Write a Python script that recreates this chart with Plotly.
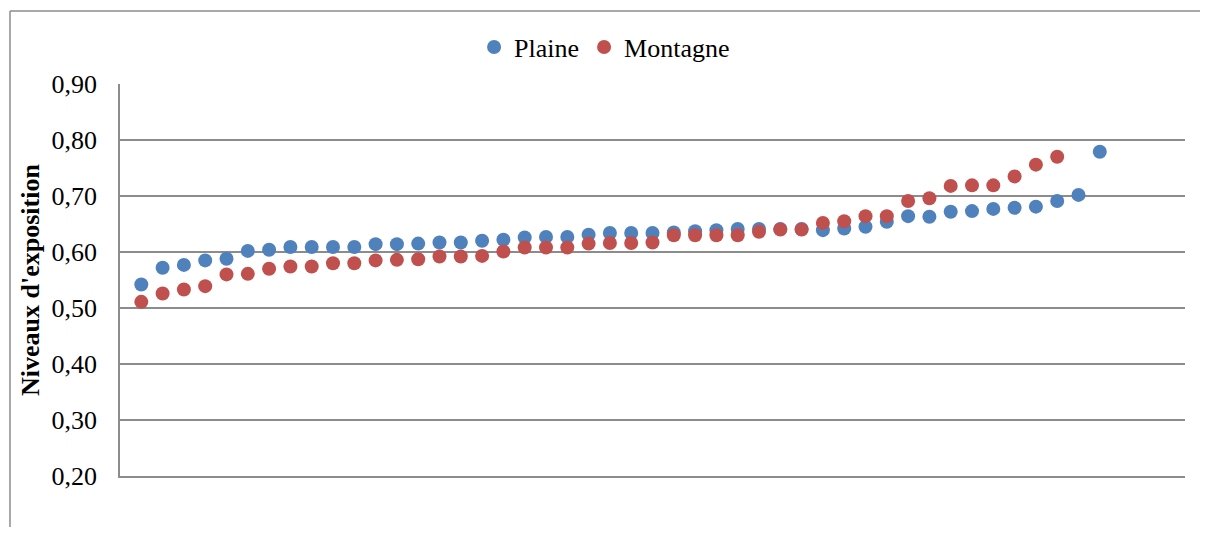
import plotly.graph_objects as go

rang = list(range(1, 47))

plaine = [0.542, 0.572, 0.577, 0.585, 0.588, 0.602, 0.604, 0.609, 0.609, 0.609,
          0.609, 0.614, 0.614, 0.615, 0.617, 0.617, 0.620, 0.622, 0.626, 0.627,
          0.627, 0.631, 0.634, 0.634, 0.634, 0.635, 0.637, 0.639, 0.641, 0.641,
          0.641, 0.641, 0.639, 0.642, 0.645, 0.654, 0.664, 0.663, 0.672, 0.673,
          0.677, 0.679, 0.681, 0.691, 0.702, 0.779]

montagne = [0.511, 0.526, 0.533, 0.539, 0.560, 0.561, 0.570, 0.574, 0.574, 0.580,
            0.580, 0.585, 0.586, 0.587, 0.592, 0.592, 0.593, 0.601, 0.608, 0.608,
            0.608, 0.615, 0.616, 0.616, 0.617, 0.630, 0.630, 0.630, 0.630, 0.636,
            0.640, 0.640, 0.652, 0.655, 0.664, 0.664, 0.691, 0.696, 0.718, 0.719,
            0.719, 0.735, 0.756, 0.770]

ticks = [0.2, 0.3, 0.4, 0.5, 0.6, 0.7, 0.8, 0.9]
tick_labels = ["0,20", "0,30", "0,40", "0,50", "0,60", "0,70", "0,80", "0,90"]

font = "Liberation Serif, Times New Roman, serif"
grid = "#8c8c8c"

fig = go.Figure()
fig.add_trace(go.Scatter(x=rang, y=plaine, mode="markers", name="Plaine",
                         marker=dict(color="#4F81BD", size=14)))
fig.add_trace(go.Scatter(x=rang[:len(montagne)], y=montagne, mode="markers", name="Montagne",
                         marker=dict(color="#C0504D", size=14)))

# figure is a bit smaller than the window so the page body margin (8px) doesn't cause scrollbars
fig.update_layout(
    width=1192, height=519,
    margin=dict(l=112, r=15, t=76, b=51, autoexpand=False),
    paper_bgcolor="white", plot_bgcolor="white",
    font=dict(family=font, size=26, color="black"),
    showlegend=True,
    legend=dict(orientation="h", x=0.455, xanchor="center", y=1.094, yanchor="middle",
                font=dict(size=26), itemwidth=30, tracegroupgap=0),
    xaxis=dict(range=[0, 50], showticklabels=False, showgrid=False, zeroline=False,
               showline=True, linecolor=grid, linewidth=1.5, ticks=""),
    yaxis=dict(range=[0.2, 0.9], tickvals=ticks, ticktext=tick_labels,
               showgrid=True, gridcolor=grid, gridwidth=1.5, zeroline=False,
               showline=True, linecolor=grid, linewidth=1.5,
               ticks="", ticklabelstandoff=16,
               title=dict(text="<b>Niveaux d'exposition</b>", font=dict(size=26),
                          standoff=4)),
    # chart frame: only the left and top edges fall inside the picture
    shapes=[dict(type="line", xref="paper", yref="paper",
                 x0=-0.1033, x1=-0.1033, y0=-0.3, y1=1.186,
                 line=dict(color=grid, width=1.5), layer="below"),
            dict(type="line", xref="paper", yref="paper",
                 x0=-0.1033, x1=1.2, y0=1.186, y1=1.186,
                 line=dict(color=grid, width=1.5), layer="below")],
)

fig.write_html("out.html")
